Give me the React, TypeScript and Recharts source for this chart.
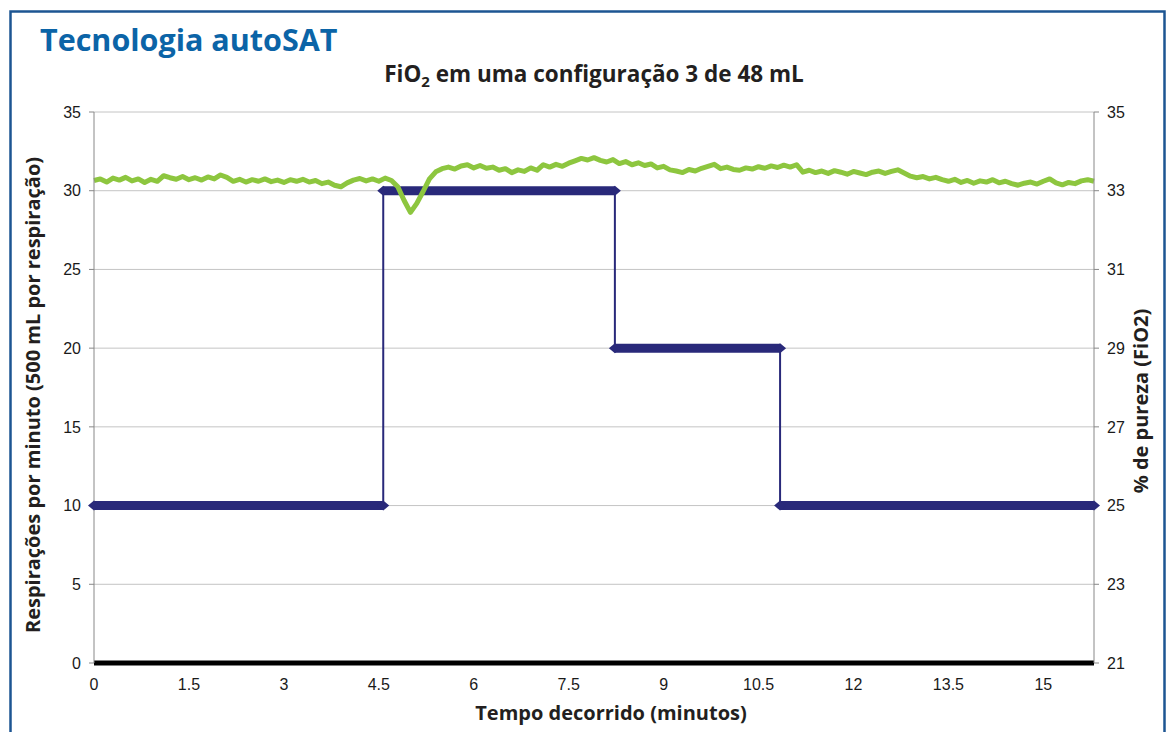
import React from "react";
import { LineChart, Line, XAxis, YAxis, CartesianGrid } from "recharts";

// ---- data ----
const xTicks = [0, 1.5, 3, 4.5, 6, 7.5, 9, 10.5, 12, 13.5, 15];
const leftTicks = [0, 5, 10, 15, 20, 25, 30, 35];
const rightTicks = [21, 23, 25, 27, 29, 31, 33, 35];

// breaths per minute: change times (minutes) and levels
const stepTimes = [0, 4.57, 8.23, 10.84, 15.8];
const stepLevels = [10, 30, 20, 10];

// FiO2 (%) sampled every 0.1 minute from 0 to 15.8
const fio2SampleStep = 0.1;
const fio2Values = [
  33.26, 33.3, 33.22, 33.32, 33.27, 33.34, 33.25, 33.3, 33.21, 33.29,
  33.24, 33.38, 33.33, 33.29, 33.36, 33.28, 33.33, 33.27, 33.35, 33.3,
  33.4, 33.34, 33.24, 33.29, 33.22, 33.28, 33.24, 33.3, 33.23, 33.27,
  33.21, 33.28, 33.24, 33.29, 33.22, 33.26, 33.18, 33.22, 33.14, 33.1,
  33.2, 33.27, 33.31, 33.25, 33.3, 33.24, 33.32, 33.26, 33.1, 32.75,
  32.45, 32.68, 32.98, 33.3, 33.48, 33.56, 33.6, 33.55, 33.63, 33.66,
  33.58, 33.64, 33.57, 33.6, 33.52, 33.56, 33.46, 33.53, 33.49, 33.58,
  33.52, 33.66, 33.6, 33.67, 33.62, 33.7, 33.76, 33.82, 33.78, 33.84,
  33.77, 33.73, 33.79, 33.69, 33.74, 33.66, 33.71, 33.64, 33.68, 33.58,
  33.62, 33.53, 33.5, 33.46, 33.54, 33.5, 33.57, 33.62, 33.67, 33.56,
  33.6, 33.54, 33.52, 33.58, 33.55, 33.61, 33.57, 33.63, 33.59, 33.65,
  33.6, 33.66, 33.47, 33.52, 33.46, 33.5, 33.44, 33.51, 33.47, 33.42,
  33.49, 33.45, 33.41, 33.47, 33.5, 33.44, 33.49, 33.53, 33.45, 33.37,
  33.33, 33.36, 33.3, 33.34, 33.28, 33.24, 33.29, 33.21, 33.26, 33.19,
  33.25, 33.22, 33.28, 33.2, 33.24, 33.18, 33.14, 33.19, 33.22, 33.17,
  33.24, 33.3, 33.2, 33.15, 33.21, 33.18, 33.25, 33.28, 33.24,
];

const baselineValue = 0;

// ---- derived tables ----
const fio2Data = fio2Values.map((v, i) => ({ t: Math.round(i * fio2SampleStep * 10) / 10, v }));
const stepData = stepLevels.flatMap((lvl, i) => [
  { t: stepTimes[i], v: lvl },
  { t: stepTimes[i + 1], v: lvl },
]);
const segments = stepLevels.map((lvl, i) => [
  { t: stepTimes[i], v: lvl },
  { t: stepTimes[i + 1], v: lvl },
]);
const baselineData = [
  { t: stepTimes[0], v: baselineValue },
  { t: stepTimes[stepTimes.length - 1], v: baselineValue },
];

const NAVY = "#29297a";
const GREEN = "#8dc63f";
const TICK_FONT = "'Liberation Sans', Arial, sans-serif";
const LABEL_FONT = "'Open Sans', 'Noto Sans', sans-serif";

const Diamond = (props: any) => {
  const { cx, cy, index } = props;
  if (cx == null || cy == null) return <g key={index} />;
  return (
    <polygon
      key={index}
      points={`${cx - 6},${cy} ${cx},${cy - 5} ${cx + 6},${cy} ${cx},${cy + 5}`}
      fill={NAVY}
    />
  );
};

export default function App() {
  return (
    <div
      style={{
        position: "fixed",
        left: 0,
        top: 0,
        width: 1168,
        height: 732,
        background: "#fff",
        overflow: "hidden",
      }}
    >
      <div style={{ position: "absolute", left: 0, top: 0 }}>
        <LineChart
          width={1168}
          height={732}
          margin={{ top: 112, right: 14, bottom: 39, left: 34 }}
        >
          <CartesianGrid
            yAxisId="l"
            vertical={false}
            stroke="#c4c4c4"
            strokeWidth={1}
          />
          <XAxis
            dataKey="t"
            type="number"
            domain={[0, 15.8]}
            ticks={xTicks}
            interval={0}
            height={30}
            axisLine={false}
            tickLine={false}
            tickSize={5}
            tickMargin={11}
            tick={{ fontFamily: TICK_FONT, fontSize: 16, fill: "#1a1a1a" }}
          />
          <YAxis
            yAxisId="l"
            orientation="left"
            type="number"
            domain={[0, 35]}
            ticks={leftTicks}
            interval={0}
            width={60}
            axisLine={{ stroke: "#888" }}
            tickLine={{ stroke: "#888" }}
            tickSize={5}
            tickMargin={8}
            tick={{ fontFamily: TICK_FONT, fontSize: 16, fill: "#1a1a1a" }}
          />
          <YAxis
            yAxisId="r"
            orientation="right"
            type="number"
            domain={[21, 35]}
            ticks={rightTicks}
            interval={0}
            width={60}
            axisLine={{ stroke: "#888" }}
            tickLine={{ stroke: "#888" }}
            tickSize={5}
            tickMargin={8}
            tick={{ fontFamily: TICK_FONT, fontSize: 16, fill: "#1a1a1a" }}
          />
          <Line
            yAxisId="l"
            data={stepData}
            dataKey="v"
            type="linear"
            stroke={NAVY}
            strokeWidth={2}
            dot={false}
            activeDot={false}
            isAnimationActive={false}
          />
          {segments.map((seg, i) => (
            <Line
              key={`seg${i}`}
              yAxisId="l"
              data={seg}
              dataKey="v"
              type="linear"
              stroke={NAVY}
              strokeWidth={9}
              strokeLinecap="butt"
              dot={<Diamond />}
              activeDot={false}
              isAnimationActive={false}
            />
          ))}
          <Line
            yAxisId="r"
            data={fio2Data}
            dataKey="v"
            type="linear"
            stroke={GREEN}
            strokeWidth={5}
            strokeLinejoin="round"
            dot={false}
            activeDot={false}
            isAnimationActive={false}
          />
          <Line
            yAxisId="l"
            data={baselineData}
            dataKey="v"
            type="linear"
            stroke="#000"
            strokeWidth={5}
            dot={false}
            activeDot={false}
            isAnimationActive={false}
          />
        </LineChart>
      </div>
      <svg
        width={1168}
        height={732}
        style={{ position: "absolute", left: 0, top: 0, pointerEvents: "none" }}
      >
        <path
          d="M10.5 760 L10.5 11.5 L1164.5 11.5 L1164.5 760"
          fill="none"
          stroke="#1d5592"
          strokeWidth={2.5}
        />
        <text
          x={40}
          y={51}
          fontFamily={LABEL_FONT}
          fontWeight={700}
          fontSize={30.5}
          fill="#0b64a7"
        >
          Tecnologia autoSAT
        </text>
        <text
          x={594}
          y={82}
          textAnchor="middle"
          fontFamily={LABEL_FONT}
          fontWeight={700}
          fontSize={22.5}
          fill="#231f20"
        >
          FiO
          <tspan fontSize={15} dy={5}>2</tspan>
          <tspan dy={-5}> em uma configuração 3 de 48 mL</tspan>
        </text>
        <text
          x={40}
          y={395}
          textAnchor="middle"
          transform="rotate(-90 40 395)"
          fontFamily={LABEL_FONT}
          fontWeight={700}
          fontSize={20}
          fill="#231f20"
        >
          Respirações por minuto (500 mL por respiração)
        </text>
        <text
          x={1148}
          y={401}
          textAnchor="middle"
          transform="rotate(-90 1148 401)"
          fontFamily={LABEL_FONT}
          fontWeight={700}
          fontSize={20}
          fill="#231f20"
        >
          % de pureza (FiO2)
        </text>
        <text
          x={611}
          y={720}
          textAnchor="middle"
          fontFamily={LABEL_FONT}
          fontWeight={700}
          fontSize={20}
          fill="#231f20"
        >
          Tempo decorrido (minutos)
        </text>
      </svg>
    </div>
  );
}
